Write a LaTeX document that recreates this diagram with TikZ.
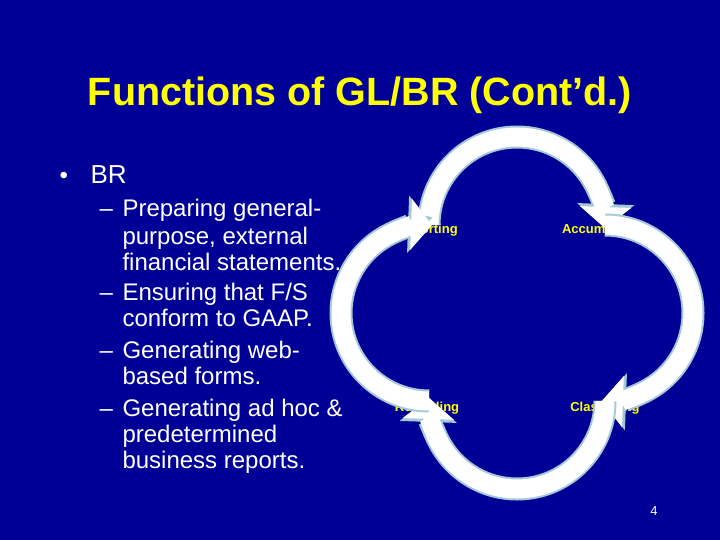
\documentclass[tikz,border=0pt]{standalone}
\usepackage{fontspec}
\setmainfont{Liberation Sans}
\usetikzlibrary{arrows.meta}
\definecolor{bg}{RGB}{0,0,150}
\definecolor{ttl}{RGB}{255,255,0}
\definecolor{rim}{RGB}{165,200,215}
\tikzset{
  band/.style={line width=19pt, white, preaction={draw=rim, line width=23pt,
     -{Triangle[width=56pt,length=24pt]}},
     -{Triangle[width=50pt,length=21pt]}},
  lbl/.style={text=ttl, font=\fontsize{13}{15}\selectfont\bfseries},
  txt/.style={text=white, anchor=base west, font=\fontsize{24}{28}\selectfont},
}
\begin{document}
\begin{tikzpicture}[x=1pt,y=-1pt]
\fill[bg] (0,0) rectangle (720,540);
\node[text=ttl, font=\fontsize{39.5}{44}\selectfont\bfseries] (title) at (360,95) {Functions of GL/BR (Cont’d.)};
\node[txt] (b0) at (56,184) {•};
\node[txt, font=\fontsize{26}{30}\selectfont] (b1) at (87,184) {BR};
\node[txt] (d1) at (96,217) {–};
\node[txt] (l1) at (119,217) {Preparing general-};
\node[txt] (l2) at (119,244) {purpose, external};
\node[txt] (l3) at (119,270) {financial statements.};
\node[txt] (d2) at (96,300) {–};
\node[txt] (l4) at (119,300) {Ensuring that F/S};
\node[txt] (l5) at (119,326) {conform to GAAP.};
\node[txt] (d3) at (96,358) {–};
\node[txt] (l6) at (119,358) {Generating web-};
\node[txt] (l7) at (119,384) {based forms.};
\node[txt] (d4) at (96,416) {–};
\node[txt] (l8) at (119,416) {Generating ad hoc \&};
\node[txt] (l9) at (119,442) {predetermined};
\node[txt] (l10) at (119,468) {business reports.};
\node[lbl] (rep) at (427,230) {Reporting};
\node[lbl] (acc) at (605,230) {Accumulating};
\node[lbl] (rec) at (427,408) {Recording};
\node[lbl] (cla) at (605,408) {Classifying};
\node[text=white, font=\fontsize{13}{15}\selectfont] (pg) at (654,511) {4};
\draw[band] (429,225) arc[start angle=180, end angle=362, radius=88];
\draw[band] (605,225) arc[start angle=270, end angle=452, radius=88];
\draw[band] (605,401) arc[start angle=0, end angle=182, radius=88];
\draw[band] (429,401) arc[start angle=90, end angle=272, radius=88];
\end{tikzpicture}
\end{document}
